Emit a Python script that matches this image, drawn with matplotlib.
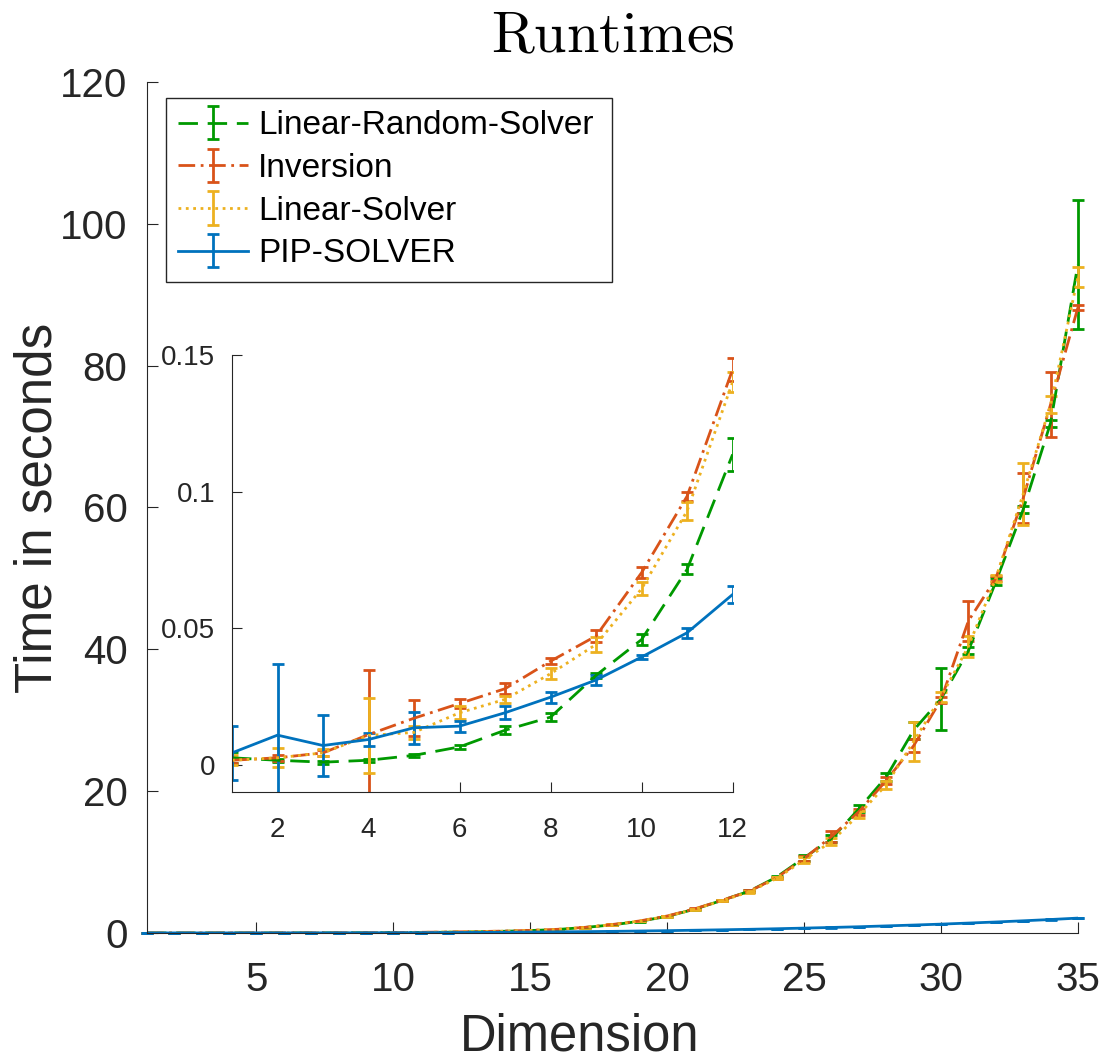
import matplotlib
matplotlib.use('Agg')
import matplotlib.pyplot as plt

plt.rcParams['font.family'] = ['Liberation Sans', 'DejaVu Sans']
plt.rcParams['mathtext.fontset'] = 'cm'

dims = list(range(1, 36))

# means (seconds)
lin_random = [0.0025, 0.0016, 0.0009, 0.0016, 0.0034, 0.0065, 0.0126, 0.0174, 0.0327, 0.0458, 0.0715, 0.1136,
              0.17, 0.24, 0.34, 0.5, 0.78, 1.15, 1.65, 2.35, 3.35, 4.6, 5.9, 7.9,
              10.6, 13.3, 17.5, 22.0, 28.6, 33.0, 39.8, 49.5, 59.7, 71.9, 94.3]
inversion = [0.0016, 0.0025, 0.0043, 0.011, 0.017, 0.0224, 0.0278, 0.0379, 0.0471, 0.0703, 0.0983, 0.1447,
             0.19, 0.27, 0.37, 0.52, 0.8, 1.2, 1.7, 2.4, 3.4, 4.6, 5.9, 7.8,
             10.5, 13.6, 17.1, 21.5, 26.4, 32.9, 44.0, 50.0, 61.3, 74.5, 88.2]
lin_solver = [0.0016, 0.0025, 0.0043, 0.0107, 0.0118, 0.019, 0.0239, 0.0333, 0.044, 0.0644, 0.0929, 0.1401,
              0.19, 0.26, 0.36, 0.5, 0.78, 1.18, 1.7, 2.35, 3.35, 4.55, 5.8, 7.7,
              10.3, 12.9, 16.7, 20.9, 27.0, 33.3, 40.4, 50.0, 61.9, 74.5, 92.5]
pip_solver = [0.0043, 0.0108, 0.007, 0.0092, 0.0135, 0.0141, 0.019, 0.0247, 0.031, 0.0394, 0.0483, 0.0623,
              0.08, 0.10, 0.13, 0.16, 0.19, 0.23, 0.28, 0.33, 0.39, 0.45, 0.52, 0.60,
              0.69, 0.78, 0.88, 1.0, 1.12, 1.25, 1.4, 1.55, 1.72, 1.9, 2.1]

# error bar half-lengths
lin_random_err = [0.002, 0.0005, 0.0005, 0.0005, 0.0005, 0.0008, 0.0015, 0.0014, 0.001, 0.002, 0.0018, 0.0061,
                  0.005, 0.007, 0.01, 0.015, 0.02, 0.03, 0.04, 0.05, 0.07, 0.1, 0.12, 0.15,
                  0.4, 0.5, 0.5, 0.6, 1.2, 4.4, 0.5, 0.5, 0.5, 0.5, 9.1]
inversion_err = [0.001, 0.001, 0.001, 0.0235, 0.0065, 0.0017, 0.0021, 0.001, 0.0023, 0.002, 0.0016, 0.0041,
                 0.005, 0.007, 0.01, 0.015, 0.02, 0.03, 0.04, 0.05, 0.07, 0.1, 0.12, 0.15,
                 0.3, 0.8, 0.4, 0.5, 0.9, 0.4, 2.8, 0.4, 3.5, 4.6, 0.4]
lin_solver_err = [0.0018, 0.0035, 0.0013, 0.0137, 0.0023, 0.0024, 0.0014, 0.002, 0.0026, 0.0023, 0.0032, 0.0036,
                  0.005, 0.007, 0.01, 0.015, 0.02, 0.03, 0.04, 0.05, 0.07, 0.1, 0.12, 0.15,
                  0.4, 0.5, 0.5, 0.6, 2.7, 0.7, 1.5, 0.5, 4.4, 1.2, 1.4]
pip_solver_err = [0.0099, 0.026, 0.0113, 0.0023, 0.0058, 0.002, 0.0023, 0.002, 0.0017, 0.0007, 0.0018, 0.0032,
                  0.002, 0.002, 0.003, 0.003, 0.004, 0.004, 0.005, 0.005, 0.006, 0.006, 0.007, 0.008,
                  0.01, 0.01, 0.01, 0.01, 0.02, 0.02, 0.02, 0.02, 0.02, 0.02, 0.03]

series = [
    ('Linear-Random-Solver', lin_random, lin_random_err, '#009900', (0, (7, 3.5))),
    ('Inversion', inversion, inversion_err, '#D95319', (0, (6, 2, 1, 2))),
    ('Linear-Solver', lin_solver, lin_solver_err, '#EDB120', (0, (1, 1.65))),
    ('PIP-SOLVER', pip_solver, pip_solver_err, '#0072BD', '-'),
]

fig = plt.figure(figsize=(11.1, 10.63), dpi=100)
ax = fig.add_axes([0.1324, 0.1223, 0.8387, 0.8006])

for name, vals, errs, col, ls in series:
    eb = ax.errorbar(dims, vals, yerr=errs, color=col, linestyle=ls, linewidth=2,
                     elinewidth=2, capsize=4.5, capthick=2, label=name)
    for art in eb.lines[1] + eb.lines[2]:
        art.set_clip_on(False)

ax.set_xlim(1, 35)
ax.set_ylim(0, 120)
ax.set_xticks([5, 10, 15, 20, 25, 30, 35])
ax.set_yticks([0, 20, 40, 60, 80, 100, 120])
for s in ['top', 'right']:
    ax.spines[s].set_visible(False)
for s in ['left', 'bottom']:
    ax.spines[s].set_color('#262626')
ax.tick_params(direction='in', length=8, labelsize=29, colors='#262626', pad=14)
ax.tick_params(axis='x', pad=20)
ax.set_xlabel('Dimension', fontsize=36.5, color='#262626')
ax.xaxis.set_label_coords(0.4645, -0.0935)
ax.set_ylabel('Time in seconds', fontsize=36.8, color='#262626', labelpad=-2)
ax.set_title(r'$\mathrm{Runtimes}$', fontsize=42, pad=21)

leg = ax.legend(loc='upper left', bbox_to_anchor=(0.0204, 0.0, 0.479, 0.981), mode='expand',
                borderaxespad=0, fontsize=24, fancybox=False, edgecolor='#262626', framealpha=1,
                handlelength=2.1, handletextpad=0.3, labelspacing=0.35, borderpad=0.37)
leg.get_frame().set_linewidth(1)

# inset for small dimensions
n_small = 12
ins = fig.add_axes([0.209, 0.255, 0.451, 0.411])
for name, vals, errs, col, ls in series:
    ins.errorbar(dims[:n_small], vals[:n_small], yerr=errs[:n_small], color=col, linestyle=ls,
                 linewidth=2, elinewidth=2, capsize=4, capthick=2)
ins.set_xlim(1, 12)
ins.set_ylim(-0.01, 0.15)
ins.set_xticks([2, 4, 6, 8, 10, 12])
ins.set_yticks([0, 0.05, 0.1, 0.15])
ins.set_yticklabels(['0', '0.05', '0.1', '0.15'])
for s in ['top', 'right']:
    ins.spines[s].set_visible(False)
for s in ['left', 'bottom']:
    ins.spines[s].set_color('#262626')
ins.tick_params(direction='in', length=7, labelsize=20, colors='#262626', pad=12)
ins.tick_params(axis='x', pad=18)

fig.savefig('out.png', dpi=100)
